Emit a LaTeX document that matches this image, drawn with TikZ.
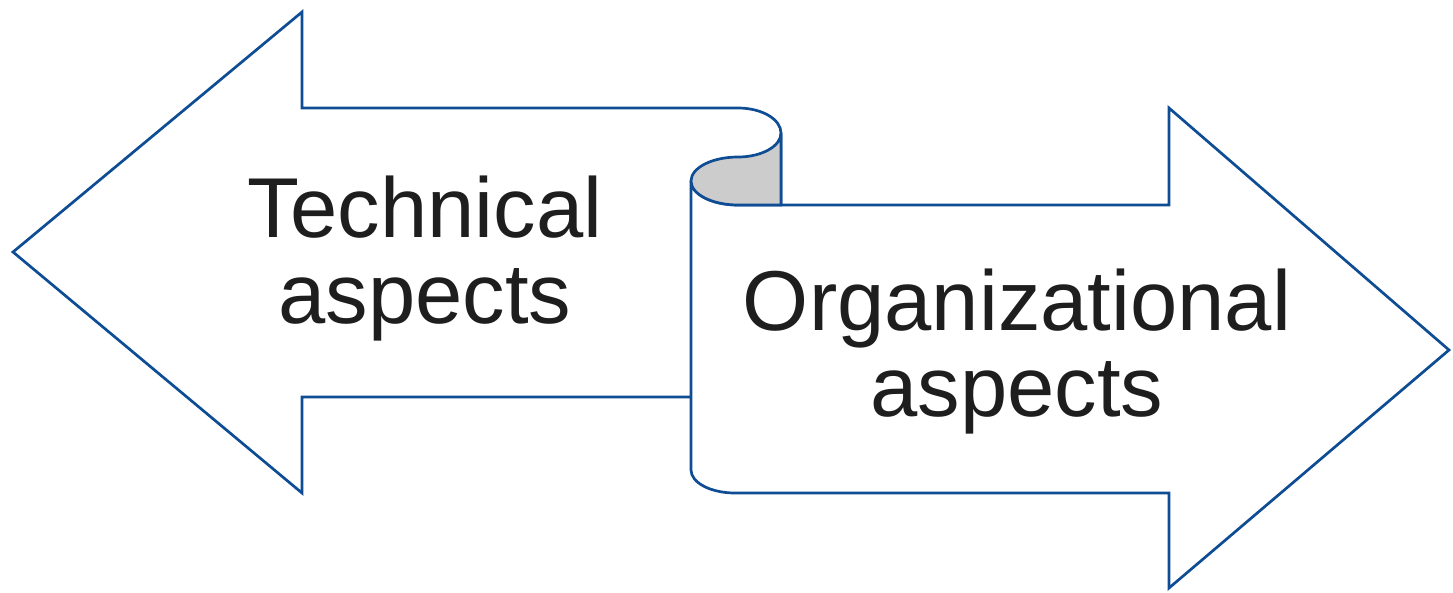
\documentclass[tikz,border=0pt]{standalone}
\usepackage{fontspec}
\setmainfont{Liberation Sans}
\definecolor{arrowblue}{RGB}{14,76,148}
\definecolor{curlgray}{RGB}{204,204,204}
\definecolor{textdark}{RGB}{30,30,30}
\begin{document}
\begin{tikzpicture}[x=1pt,y=-1pt,
  outline/.style={draw=arrowblue, line width=2.7pt, line join=miter},
  label/.style={font=\fontsize{85}{86}\selectfont, text=textdark, align=center, inner sep=0pt}]
\useasboundingbox (0,0) rectangle (1453,592);
% left arrow
\draw[outline] (691,397) -- (302,397) -- (302,493) -- (13,252) -- (302,12) -- (302,108) -- (738,108)
  .. controls (761.7,108) and (781,119.2) .. (781,133) -- (781,205);
% right arrow
\draw[outline, fill=white] (781,205) -- (1169,205) -- (1169,108) -- (1449,350) -- (1169,588) -- (1169,493) -- (735,493)
  .. controls (710.7,493) and (691,482.7) .. (691,470) -- (691,181)
  .. controls (691,194.2) and (712,205) .. (738,205) -- cycle;
% curl
\draw[outline, fill=curlgray] (781,133) .. controls (781,146.2) and (761.7,157) .. (738,157)
  .. controls (712,157) and (691,167.8) .. (691,181)
  .. controls (691,194.2) and (712,205) .. (738,205) -- (781,205) -- cycle;
% texts
\node[label, anchor=base] (tech) at (425,323) {Technical\\aspects};
\node[label, anchor=base] (org) at (1017,416) {Organizational\\aspects};
\end{tikzpicture}
\end{document}
